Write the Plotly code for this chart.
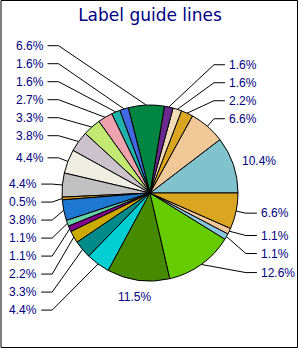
import math
import plotly.graph_objects as go

# ---------------- data ----------------
values = [10.4, 6.6, 2.2, 1.6, 1.6, 6.6, 1.6, 1.6, 2.7, 3.3, 3.8, 4.4, 4.4, 0.5,
          3.8, 1.1, 1.1, 2.2, 3.3, 4.4, 11.5, 12.6, 1.1, 1.1, 6.6]
colors = ["#80C3CC", "#F0C898", "#DAA520", "#F2DCB6", "#6A2A8E", "#008542",
          "#4169E1", "#20B2AA", "#EEA2AE", "#C2EA72", "#CCC2CC", "#EEEEE2",
          "#C0C0C0", "#E0A020", "#1E78D2", "#66D2AA", "#82008C", "#CCAA00",
          "#008B8B", "#00CED1", "#468A00", "#66CC00", "#87C8E0", "#F5C89C",
          "#DAA520"]
title_text = "Label guide lines"

# ---------------- geometry / style ----------------
W, H = 300, 350
CX, CY, R = 150, 193, 88     # pie centre and radius (px)
RL = 98                      # natural label radius
SP = 18                      # vertical spacing of stacked labels
CHAIN_GAP = 24
TXT = "#000080"


def px(x):
    return x / W


def py(y):
    return 1 - y / H


total = sum(values)
texts = [f"{v / total * 100:.1f}%" for v in values]


def text_w(s):
    w = 0
    for ch in s:
        w += 3.33 if ch == "." else (10.67 if ch == "%" else 6.67)
    return w


n = len(values)
mids = []
cum = 0.0
for v in values:
    a0 = cum / total * 2 * math.pi
    cum += v
    a1 = cum / total * 2 * math.pi
    mids.append((a0 + a1) / 2)

info = []
for i in range(n):
    a = mids[i]
    c, s = math.cos(a), math.sin(a)
    Pxx, Pyy = CX + RL * c, CY - RL * s
    w = text_w(texts[i])
    bx, by = Pxx + w / 2 * c, Pyy - 7 * s ** 3
    info.append(dict(c=c, s=s, px=Pxx, py=Pyy, w=w, bx=bx, by=by))


def overlap(i, j):
    a, b = info[i], info[j]
    return (abs(a["bx"] - b["bx"]) < (a["w"] + b["w"]) / 2 + 4 and
            abs(a["by"] - b["by"]) < 16)


# classify
free = set()
side_members = {-1: [], 1: []}
for i in range(n):
    d = info[i]
    side = 1 if d["c"] >= 0 else -1
    if abs(d["c"]) < 0.2:
        if any(overlap(i, j) for j in range(n) if j != i):
            side_members[side].append(i)
        else:
            free.add(i)
    else:
        side_members[side].append(i)

placed = {}
for side, members in side_members.items():
    members = sorted(members, key=lambda k: info[k]["py"])
    chains = []
    for k in members:
        if chains and info[k]["py"] - info[chains[-1][-1]]["py"] < CHAIN_GAP:
            chains[-1].append(k)
        else:
            chains.append([k])

    def push(chain):
        ys = [info[k]["py"] for k in chain]
        if sum(ys) / len(ys) < CY:
            for t in range(len(chain) - 2, -1, -1):
                ys[t] = min(ys[t], ys[t + 1] - SP)
        else:
            for t in range(1, len(chain)):
                ys[t] = max(ys[t], ys[t - 1] + SP)
        return ys

    changed = True
    while changed:
        changed = False
        pos = {}
        for ch in chains:
            if len(ch) > 1:
                for k, y in zip(ch, push(ch)):
                    pos[k] = y
            else:
                pos[ch[0]] = info[ch[0]]["py"]
        for t in range(len(chains) - 1):
            a, b = chains[t], chains[t + 1]
            if len(a) > 1 or len(b) > 1:
                if pos[b[0]] - pos[a[-1]] < CHAIN_GAP - 4:
                    chains[t] = a + b
                    del chains[t + 1]
                    changed = True
                    break
    for ch in chains:
        if len(ch) == 1:
            free.add(ch[0])
        else:
            ys = push(ch)
            xs = [info[k]["px"] for k in ch]
            elbow = max(xs) if side > 0 else min(xs)
            for k, y in zip(ch, ys):
                placed[k] = (side, elbow, y)

shapes = []
annotations = []
line_style = dict(color="black", width=1)
for i in range(n):
    d = info[i]
    if i in free:
        annotations.append(dict(x=px(d["bx"]), y=py(d["by"]), xref="paper", yref="paper",
                                text=texts[i], showarrow=False, xanchor="center",
                                yanchor="middle",
                                font=dict(family="Liberation Sans, Arial", size=12, color=TXT)))
        continue
    side, elbow, y = placed[i]
    ex, ey = CX + R * d["c"], CY - R * d["s"]
    shapes.append(dict(type="line", xref="paper", yref="paper", x0=px(ex), y0=py(ey),
                       x1=px(elbow), y1=py(y), line=line_style))
    shapes.append(dict(type="line", xref="paper", yref="paper", x0=px(elbow), y0=py(y),
                       x1=px(elbow + side * 11), y1=py(y), line=line_style))
    tx = elbow + side * 15 - side * 2
    annotations.append(dict(x=px(tx), y=py(y), xref="paper", yref="paper",
                            text=texts[i], showarrow=False,
                            xanchor="left" if side > 0 else "right", yanchor="middle",
                            font=dict(family="Liberation Sans, Arial", size=12, color=TXT)))

# frame
shapes.append(dict(type="rect", xref="paper", yref="paper", x0=px(1), y0=py(347.5),
                   x1=px(297.5), y1=py(0.5), line=dict(color="black", width=1)))

# Plotly (counterclockwise) puts the first slice on the clockwise side of the
# rotation mark, so offset by the first slice's angle to start it at 3 o'clock.
rotation = 90 - values[0] / total * 360

fig = go.Figure(go.Pie(
    values=values,
    sort=False,
    direction="counterclockwise",
    rotation=rotation,
    marker=dict(colors=colors, line=dict(color="black", width=1)),
    textinfo="none",
    hoverinfo="skip",
    showlegend=False,
    domain=dict(x=[px(CX - R), px(CX + R)], y=[py(CY + R), py(CY - R)]),
))

fig.update_layout(
    width=W, height=H,
    margin=dict(l=0, r=0, t=0, b=0),
    paper_bgcolor="white",
    plot_bgcolor="white",
    title=dict(text=title_text, x=0.5, xanchor="center", y=py(15), yanchor="middle",
               yref="paper",
               font=dict(family="DejaVu Sans, Verdana", size=17, color=TXT)),
    shapes=shapes,
    annotations=annotations,
)

fig.write_html("out.html")
